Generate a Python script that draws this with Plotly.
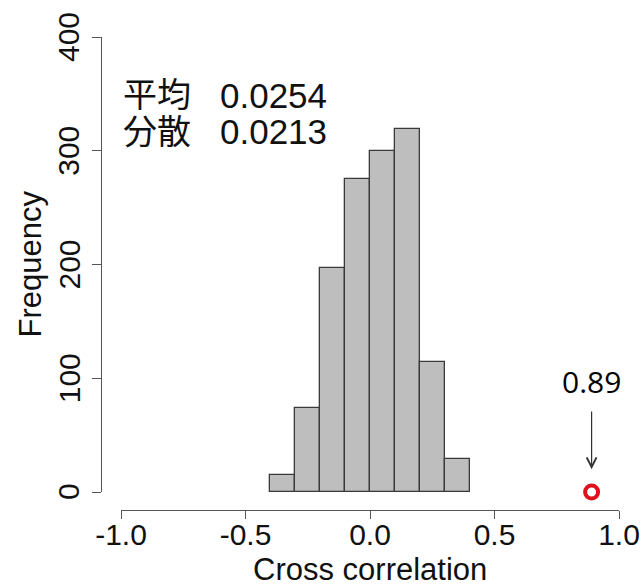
import plotly.graph_objects as go

# Histogram of cross-correlation values (bin width 0.1)
bin_left = [-0.4, -0.3, -0.2, -0.1, 0.0, 0.1, 0.2, 0.3]
counts = [15, 74, 197, 275, 300, 319, 114, 29]
bin_width = 0.1

# Observed value marked on the axis
observed = 0.89
observed_label = "0.89"

# Summary statistics shown in the corner
stat_names = ["平均", "分散"]
stat_values = ["0.0254", "0.0213"]

x_ticks = [-1.0, -0.5, 0.0, 0.5, 1.0]
x_ticktext = ["-1.0", "-0.5", "0.0", "0.5", "1.0"]
y_ticks = [0, 100, 200, 300, 400]

W, H = 641, 587


def px(v):
    return v / W


def py(v):
    return 1 - v / H


SANS = "Liberation Sans, Arial, Helvetica, sans-serif"
CJK = "Liberation Sans, Noto Sans CJK JP, sans-serif"
AXIS_COLOR = "#555555"

centers = [b + bin_width / 2 for b in bin_left]

fig = go.Figure()
fig.add_trace(go.Bar(
    x=centers, y=counts, width=bin_width,
    marker=dict(color="#bebebe", line=dict(color="#3a3a3a", width=1.3)),
    showlegend=False,
))
fig.add_trace(go.Scatter(
    x=[observed], y=[0], mode="markers", cliponaxis=False,
    marker=dict(symbol="circle-open", size=13, color="#e0101c",
                line=dict(width=4, color="#e0101c")),
    showlegend=False,
))

annotations = []
# Arrow pointing at the observed value
annotations.append(dict(
    x=observed, y=20, ax=observed, ay=72,
    xref="x", yref="y", axref="x", ayref="y",
    text="", showarrow=True, arrowhead=5, arrowsize=1.6, arrowwidth=1.2,
    arrowcolor="#333333",
))
annotations.append(dict(
    x=observed, y=py(382), xref="x", yref="paper",
    text=observed_label, showarrow=False,
    font=dict(family="Open Sans, Noto Sans, sans-serif", size=30, color="#000000"),
    xanchor="center", yanchor="middle",
))
# Statistics block
for i, (name, val) in enumerate(zip(stat_names, stat_values)):
    yc = 95 + i * 37
    annotations.append(dict(
        x=px(121), y=py(yc), xref="paper", yref="paper", text=name,
        showarrow=False, xanchor="left", yanchor="middle",
        font=dict(family=CJK, size=34, color="#111111"),
    ))
    annotations.append(dict(
        x=px(218), y=py(yc), xref="paper", yref="paper", text=val,
        showarrow=False, xanchor="left", yanchor="middle",
        font=dict(family=SANS, size=35, color="#111111"),
    ))
# Y tick labels, rotated, placed on the y scale
for v in y_ticks:
    annotations.append(dict(
        x=px(69), y=v, xref="paper", yref="y", text=str(v),
        showarrow=False, xanchor="center", yanchor="middle", textangle=-90,
        font=dict(family=SANS, size=30, color="#111111"),
    ))
# Axis titles
annotations.append(dict(
    x=px(370), y=py(569), xref="paper", yref="paper", text="Cross correlation",
    showarrow=False, xanchor="center", yanchor="middle",
    font=dict(family=SANS, size=31, color="#111111"),
))
annotations.append(dict(
    x=px(30), y=py(264.5), xref="paper", yref="paper", text="Frequency",
    showarrow=False, xanchor="center", yanchor="middle", textangle=-90,
    font=dict(family=SANS, size=31, color="#111111"),
))

fig.update_layout(
    width=W, height=H, autosize=False,
    margin=dict(l=0, r=0, t=0, b=0),
    paper_bgcolor="white", plot_bgcolor="white",
    bargap=0,
    annotations=annotations,
    xaxis=dict(
        domain=[px(121), px(619)], range=[-1, 1],
        anchor="free", position=py(510),
        tickvals=x_ticks, ticktext=x_ticktext,
        showline=True, linecolor=AXIS_COLOR, linewidth=1.3,
        ticks="outside", ticklen=8, tickcolor=AXIS_COLOR, tickwidth=1.3,
        ticklabelstandoff=-10,
        showgrid=False, zeroline=False, automargin=False,
        tickfont=dict(family=SANS, size=30, color="#111111"),
    ),
    yaxis=dict(
        domain=[py(492), py(37)], range=[0, 400],
        anchor="free", position=px(101),
        tickvals=y_ticks, showticklabels=False,
        showline=True, linecolor=AXIS_COLOR, linewidth=1.3,
        ticks="outside", ticklen=9, tickcolor=AXIS_COLOR, tickwidth=1.3,
        showgrid=False, zeroline=False, automargin=False,
    ),
)

fig.write_html("out.html")
